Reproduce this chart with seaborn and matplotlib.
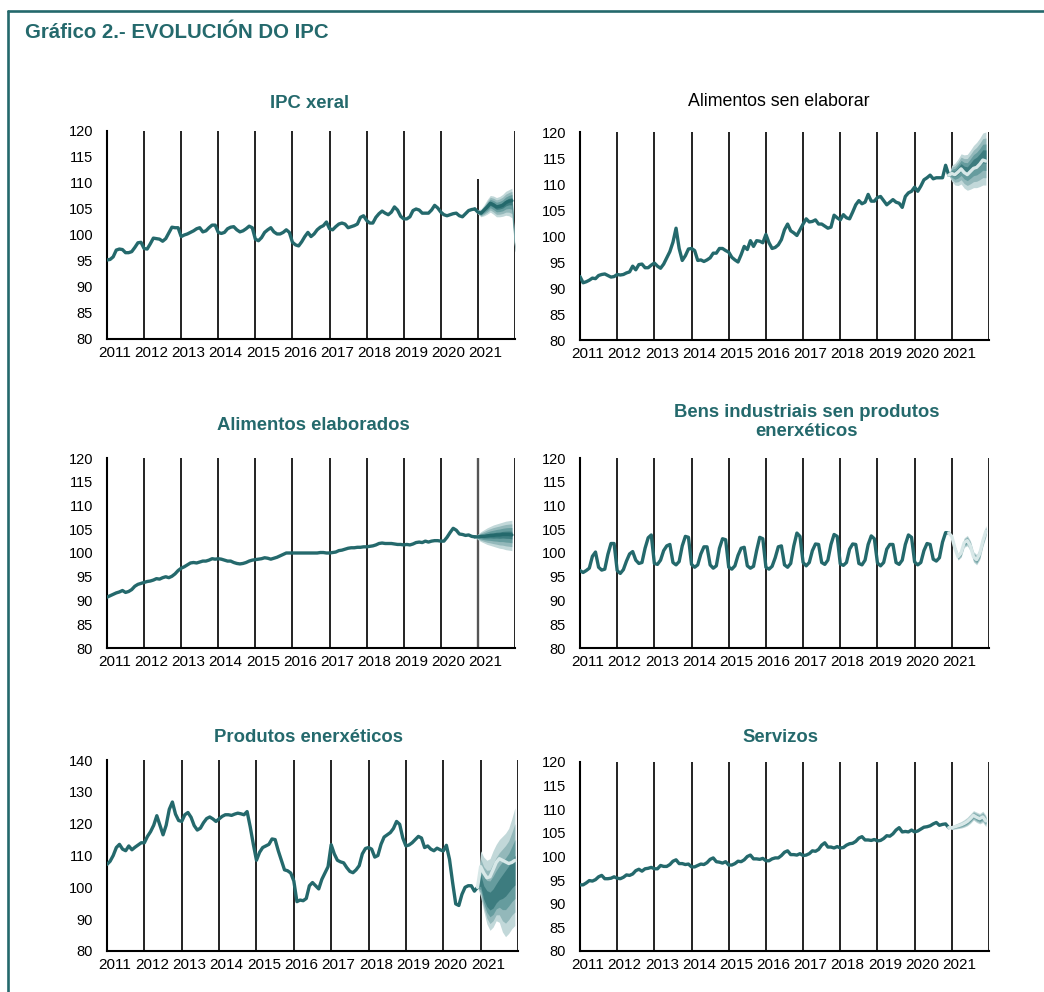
import numpy as np
import pandas as pd
import matplotlib
matplotlib.use("Agg")
import matplotlib.pyplot as plt
import seaborn as sns
from matplotlib.lines import Line2D

sns.set_style("white")
plt.rcParams['font.family'] = ['Liberation Sans', 'DejaVu Sans']

# ---------------- data ----------------
year_labels = ['2011', '2012', '2013', '2014', '2015', '2016', '2017', '2018', '2019', '2020', '2021']
panel_titles = ['IPC xeral', 'Alimentos sen elaborar', 'Alimentos elaborados',
                'Bens industriais sen produtos\nenerxéticos', 'Produtos enerxéticos', 'Servizos']

# monthly observed values, Jan 2011 - Dec 2020
ipc_xeral = [
    95.2, 95.3, 95.8, 97.1, 97.3, 97.2, 96.6, 96.6, 96.8, 97.6, 98.5, 98.6,
    97.4, 97.3, 98.3, 99.4, 99.3, 99.2, 98.8, 99.3, 100.4, 101.5, 101.4, 101.4,
    99.7, 100.0, 100.2, 100.5, 100.8, 101.2, 101.4, 100.6, 100.8, 101.4, 101.9, 101.9,
    100.5, 100.3, 100.5, 101.2, 101.5, 101.6, 101.0, 100.6, 100.8, 101.2, 101.7, 101.4,
    99.2, 98.9, 99.5, 100.5, 101.0, 101.4, 100.6, 100.2, 100.2, 100.5, 101.0, 100.5,
    98.6, 98.1, 97.9, 98.7, 99.7, 100.5, 99.7, 100.2, 101.0, 101.5, 101.8, 102.5,
    101.2, 101.0, 101.6, 102.1, 102.3, 102.1, 101.4, 101.6, 101.8, 102.1, 103.4, 103.7,
    102.8, 102.3, 102.3, 103.4, 104.1, 104.6, 104.2, 103.9, 104.4, 105.4, 104.8, 103.6,
    103.1, 103.1, 103.5, 104.7, 105.0, 104.8, 104.2, 104.2, 104.2, 104.8, 105.7, 105.2,
    104.4, 103.9, 103.7, 103.9, 104.1, 104.2, 103.7, 103.5, 104.1, 104.7, 104.9, 105.0]

alim_sen_elab = [
    92.2, 91.0, 91.2, 91.5, 91.9, 91.8, 92.4, 92.6, 92.7, 92.4, 92.1, 92.2,
    92.6, 92.5, 92.6, 92.9, 93.1, 94.2, 93.5, 94.5, 94.6, 93.9, 93.9, 94.4,
    94.8, 94.2, 93.8, 94.6, 95.8, 97.0, 98.8, 101.5, 97.6, 95.3, 96.2, 97.5,
    97.6, 97.2, 95.3, 95.4, 95.1, 95.4, 95.8, 96.7, 96.7, 97.6, 97.6, 97.2,
    96.9, 95.9, 95.4, 95.0, 96.4, 98.0, 97.4, 99.1, 98.0, 99.1, 99.0, 98.7,
    100.3, 98.7, 97.6, 97.8, 98.3, 99.3, 101.2, 102.3, 101.0, 100.6, 100.1, 101.2,
    102.3, 103.3, 102.7, 102.8, 103.1, 102.3, 102.3, 101.9, 101.5, 101.7, 104.0, 103.5,
    103.1, 104.1, 103.5, 103.3, 104.6, 106.0, 106.8, 106.2, 106.5, 108.0, 106.7, 106.7,
    107.4, 107.6, 106.8, 106.0, 106.5, 107.0, 106.5, 106.3, 105.5, 107.6, 108.3, 108.6,
    109.4, 108.6, 109.6, 110.8, 111.2, 111.7, 111.0, 111.2, 111.2, 111.2, 113.6, 111.7]

alim_elab = [
    90.7, 91.0, 91.3, 91.6, 91.8, 92.1, 91.7, 91.9, 92.3, 93.0, 93.4, 93.6,
    93.8, 94.0, 94.1, 94.3, 94.6, 94.5, 94.8, 95.0, 94.8, 95.1, 95.6, 96.3,
    96.8, 97.1, 97.5, 97.9, 98.0, 97.9, 98.1, 98.3, 98.3, 98.5, 98.8, 98.7,
    98.8, 98.7, 98.5, 98.3, 98.3, 98.0, 97.8, 97.7, 97.8, 98.0, 98.3, 98.5,
    98.6, 98.7, 98.8, 99.0, 98.9, 98.7, 98.9, 99.1, 99.4, 99.7, 100.0, 100.0,
    100.0, 100.0, 100.0, 100.0, 100.0, 100.0, 100.0, 100.0, 100.0, 100.1, 100.1, 100.0,
    100.0, 100.1, 100.2, 100.5, 100.6, 100.8, 101.0, 101.1, 101.1, 101.2, 101.2, 101.3,
    101.3, 101.4, 101.5, 101.7, 102.0, 102.1, 102.0, 102.0, 102.0, 101.9, 101.8, 101.8,
    101.7, 101.8, 101.7, 101.9, 102.2, 102.3, 102.2, 102.5, 102.3, 102.5, 102.6, 102.6,
    102.5, 102.5, 103.3, 104.3, 105.2, 104.8, 104.0, 103.9, 103.7, 103.8, 103.5, 103.4]

bens_industriais = [
    96.3, 95.9, 96.3, 96.8, 99.3, 100.2, 97.0, 96.4, 96.6, 99.7, 102.0, 102.0,
    96.3, 95.7, 96.5, 98.3, 99.8, 100.3, 98.5, 97.8, 98.0, 101.0, 103.2, 103.8,
    97.8, 97.6, 98.5, 100.5, 101.5, 101.8, 98.0, 97.5, 98.2, 101.5, 103.5, 103.3,
    97.6, 97.0, 97.5, 99.8, 101.3, 101.3, 97.5, 96.8, 97.3, 101.0, 103.0, 102.8,
    97.0, 96.6, 97.3, 99.5, 101.0, 101.2, 97.3, 96.8, 97.2, 100.5, 103.3, 103.0,
    97.0, 96.6, 97.2, 99.0, 101.3, 101.5, 97.5, 97.0, 97.8, 101.5, 104.2, 103.5,
    98.0, 97.3, 98.0, 100.5, 101.9, 101.8, 98.0, 97.6, 98.5, 101.8, 103.9, 103.5,
    97.7, 97.4, 98.0, 100.8, 101.9, 101.8, 97.8, 97.5, 98.5, 101.8, 103.6, 103.0,
    97.9, 97.3, 98.0, 100.8, 101.8, 101.8, 98.0, 97.6, 98.5, 101.8, 103.8, 103.3,
    98.1, 97.5, 98.0, 100.5, 102.0, 101.8, 98.7, 98.3, 99.0, 102.3, 104.3, 104.2]

prod_enerxeticos = [
    107.2, 108.2, 110.0, 112.5, 113.5, 112.0, 111.5, 113.0, 111.8, 112.6, 113.3, 114.0,
    114.0, 116.0, 117.5, 119.5, 122.5, 119.5, 116.5, 119.5, 124.5, 126.8, 123.0, 121.0,
    120.7, 122.8, 123.5, 122.0, 119.4, 118.0, 118.6, 120.3, 121.6, 122.1, 121.5, 120.7,
    121.5, 122.3, 122.8, 122.8, 122.6, 123.0, 123.3, 123.1, 122.8, 123.8, 119.0, 113.5,
    108.5, 111.0, 112.5, 113.0, 113.5, 115.2, 115.0, 111.5, 108.5, 105.5, 105.2, 104.5,
    102.0, 95.5, 96.0, 95.8, 96.5, 100.5, 101.5, 100.5, 99.5, 102.5, 104.5, 106.5,
    113.4, 110.5, 108.5, 108.0, 107.7, 106.2, 105.0, 104.6, 105.5, 106.8, 110.5, 112.2,
    112.5, 112.0, 109.5, 110.0, 113.5, 115.8, 116.5, 117.2, 118.5, 120.7, 119.8, 115.5,
    113.0, 113.3, 114.0, 115.0, 116.0, 115.5, 112.5, 113.0, 112.0, 111.5, 112.3, 111.8,
    111.4, 113.2, 108.8, 101.5, 94.8, 94.3, 97.8, 100.0, 100.5, 100.5, 98.8, 100.0]

servizos = [
    94.0, 94.0, 94.4, 94.9, 94.8, 95.1, 95.7, 96.0, 95.3, 95.3, 95.4, 95.7,
    95.4, 95.3, 95.6, 96.1, 96.0, 96.3, 97.0, 97.3, 96.9, 97.4, 97.5, 97.7,
    97.4, 97.4, 98.1, 97.9, 97.9, 98.3, 99.0, 99.3, 98.5, 98.5, 98.3, 98.4,
    97.8, 97.8, 98.1, 98.4, 98.3, 98.7, 99.4, 99.7, 98.9, 98.8, 98.6, 98.9,
    98.2, 98.2, 98.5, 99.0, 98.9, 99.3, 100.0, 100.3, 99.5, 99.5, 99.4, 99.6,
    99.1, 99.1, 99.5, 99.7, 99.7, 100.2, 100.9, 101.2, 100.4, 100.4, 100.3, 100.6,
    100.2, 100.3, 100.6, 101.2, 101.1, 101.5, 102.4, 102.9, 102.0, 102.0, 101.8, 102.1,
    101.8, 101.9, 102.4, 102.7, 102.8, 103.2, 103.9, 104.2, 103.5, 103.5, 103.4, 103.6,
    103.3, 103.4, 103.8, 104.4, 104.3, 104.8, 105.6, 106.1, 105.2, 105.3, 105.2, 105.6,
    105.2, 105.4, 105.8, 106.2, 106.3, 106.5, 106.9, 107.2, 106.6, 106.8, 106.9, 106.1]

# forecasts, Dec 2020 onwards: central projection line, fan core, outer lower/upper bounds
ipc_line = [105.0, 104.4, 104.2, 104.8, 105.4, 106.1, 105.8, 105.4, 105.5, 105.7, 106.2, 106.5, 106.6]
ipc_mid = [105.0, 104.4, 104.2, 104.8, 105.4, 106.1, 105.8, 105.4, 105.5, 105.7, 106.2, 106.5, 106.6, 96.9]
ipc_lo = [105.0, 104.0, 103.5, 103.7, 104.0, 104.4, 104.0, 103.5, 103.5, 103.6, 103.8, 103.7, 103.3, 96.7]
ipc_hi = [105.0, 104.9, 105.0, 105.8, 106.8, 107.6, 107.5, 107.2, 107.4, 107.8, 108.4, 108.7, 109.0, 97.1]

ase_line = [111.7, 112.0, 111.8, 112.3, 112.9, 112.2, 111.8, 112.4, 113.0, 113.2, 113.8, 114.6, 114.4]
ase_mid = [111.7, 112.1, 112.0, 112.6, 113.3, 112.7, 112.5, 113.2, 113.9, 114.2, 114.8, 115.5, 115.4]
ase_lo = [111.7, 110.5, 109.8, 109.7, 110.0, 109.2, 108.8, 109.0, 109.3, 109.3, 109.5, 109.8, 109.8]
ase_hi = [111.7, 113.6, 114.0, 114.8, 115.8, 115.6, 115.7, 116.5, 117.4, 118.0, 118.8, 119.8, 120.0]

ae_line = [103.4, 103.4, 103.5, 103.5, 103.6, 103.7, 103.7, 103.8, 103.8, 103.9, 103.9, 103.9, 103.8]
ae_lo = [103.4, 102.8, 102.4, 102.1, 101.8, 101.6, 101.4, 101.2, 101.0, 100.9, 100.7, 100.6, 100.5]
ae_hi = [103.4, 104.0, 104.5, 104.9, 105.3, 105.6, 105.9, 106.1, 106.3, 106.5, 106.7, 106.8, 106.9]

bi_line = [104.2, 103.5, 101.0, 99.2, 100.0, 102.2, 102.6, 101.5, 99.2, 98.6, 99.8, 102.5, 104.6]
bi_lo = [104.2, 103.1, 100.4, 98.5, 99.1, 101.2, 101.5, 100.4, 98.1, 97.5, 98.6, 101.3, 103.4]
bi_hi = [104.2, 103.9, 101.6, 99.9, 100.9, 103.2, 103.7, 102.6, 100.3, 99.7, 101.0, 103.7, 105.8]

pe_line = [100.0, 106.5, 104.5, 103.0, 103.3, 105.5, 107.8, 109.0, 108.5, 108.0, 107.5, 107.8, 108.5]
pe_mid = [100.0, 101.5, 97.5, 95.8, 95.0, 95.5, 97.0, 98.5, 100.0, 101.5, 102.8, 104.0, 105.0]
pe_lo = [100.0, 97.0, 92.5, 88.5, 86.5, 87.5, 89.5, 89.0, 86.0, 84.5, 85.5, 87.0, 88.0]
pe_hi = [100.0, 111.5, 109.5, 108.5, 109.0, 111.5, 113.5, 115.0, 116.0, 117.0, 118.5, 121.5, 125.0]

se_line = [106.1, 106.1, 106.3, 106.5, 106.7, 107.0, 107.4, 108.0, 108.7, 108.3, 108.0, 108.4, 107.5]
se_lo = [106.1, 105.7, 105.8, 105.9, 106.0, 106.2, 106.5, 107.0, 107.7, 107.2, 106.9, 107.2, 106.3]
se_hi = [106.1, 106.5, 106.8, 107.1, 107.4, 107.8, 108.3, 109.0, 109.7, 109.4, 109.1, 109.6, 108.7]

# ---------------- style ----------------
TEAL = "#24696C"
LIGHT = "#D8E8E8"
BAND_COLORS = ["#C2D8D9", "#93B8BA", "#669C9E", "#3D7C7F"]  # outer -> inner

W, H = 1044, 992
fig = plt.figure(figsize=(W / 100, H / 100), dpi=100)


def rect(x0, x1, ytop, ybot):
    return [x0 / W, 1 - ybot / H, (x1 - x0) / W, (ybot - ytop) / H]


def draw_panel(box, obs, line, mid, lo, hi, line_color, ylim, ystep,
               short_2021=None, gray_2021=False):
    ax = fig.add_axes(box)
    x_obs = 2011 + np.arange(len(obs)) / 12
    df = pd.DataFrame({"x": x_obs, "v": obs})
    x_fan = 2020 + 11 / 12 + np.arange(len(mid)) / 12
    mid_a, lo_a, hi_a = np.array(mid), np.array(lo), np.array(hi)
    # vertical year lines
    for yr in range(2012, 2023):
        top = ylim[1]
        col, lw = "#111111", 1.3
        if yr == 2021 and short_2021 is not None:
            top = short_2021
        if yr == 2021 and gray_2021:
            col, lw = "#555555", 1.7
        ax.plot([yr, yr], [ylim[0], top], color=col, lw=lw, zorder=1,
                solid_capstyle="butt")
    # fan bands
    nb = len(BAND_COLORS)
    for k, c in zip(range(nb, 0, -1), BAND_COLORS):
        f = k / nb
        ax.fill_between(x_fan, mid_a - f * (mid_a - lo_a), mid_a + f * (hi_a - mid_a),
                        color=c, lw=0, zorder=2)
    sns.lineplot(data=df, x="x", y="v", color=TEAL, lw=2.4, ax=ax, zorder=3)
    x_line = 2020 + 11 / 12 + np.arange(len(line)) / 12
    sns.lineplot(x=x_line, y=line, color=line_color, lw=2.4, ax=ax, zorder=3)
    ax.set_xlim(2011, 2022)
    ax.set_ylim(*ylim)
    ax.set_xlabel("")
    ax.set_ylabel("")
    for s in ["top", "right"]:
        ax.spines[s].set_visible(False)
    for s in ["left", "bottom"]:
        ax.spines[s].set_color("black")
        ax.spines[s].set_linewidth(1.5)
    ax.set_xticks(list(range(2011, 2023)))
    ax.set_xticklabels([""] * 12)
    ax.set_xticks([int(y) + 0.2 for y in year_labels], minor=True)
    ax.set_xticklabels(year_labels, minor=True)
    ax.tick_params(axis="x", which="major", direction="out", length=4, width=1, color="black")
    ax.tick_params(axis="x", which="minor", length=0, labelsize=11.0, pad=5, labelcolor="black")
    yt = np.arange(ylim[0], ylim[1] + 0.1, ystep)
    ax.set_yticks(yt)
    ax.set_yticklabels([f"{int(v)}" for v in yt])
    ax.tick_params(axis="y", direction="out", length=4, width=1, color="black",
                   labelsize=10.5, pad=6, labelcolor="black")
    ax.grid(False)
    return ax


draw_panel(rect(107, 515, 131, 339), ipc_xeral, ipc_line, ipc_mid, ipc_lo, ipc_hi,
           TEAL, (80, 120), 5, short_2021=110.8)
draw_panel(rect(580, 989, 132, 340), alim_sen_elab, ase_line, ase_mid, ase_lo, ase_hi,
           LIGHT, (80, 120), 5)
draw_panel(rect(107, 515, 458, 648), alim_elab, ae_line, ae_line, ae_lo, ae_hi,
           TEAL, (80, 120), 5, gray_2021=True)
draw_panel(rect(580, 989, 458, 648), bens_industriais, bi_line, bi_line, bi_lo, bi_hi,
           LIGHT, (80, 120), 5)
draw_panel(rect(107, 518, 760, 951), prod_enerxeticos, pe_line, pe_mid, pe_lo, pe_hi,
           LIGHT, (80, 140), 10)
draw_panel(rect(580, 989, 762, 951), servizos, se_line, se_line, se_lo, se_hi,
           LIGHT, (80, 120), 5)

# titles
title_pos = [(309, 103), (779, 102), (313, 425), (807, 422), (309, 737), (780, 738)]
for i, (t, (px, py)) in enumerate(zip(panel_titles, title_pos)):
    if i == 1:
        fig.text(px / W, 1 - py / H, t, ha="center", va="center", fontsize=12.8,
                 color="black")
    else:
        fig.text(px / W, 1 - py / H, t, ha="center", va="center", fontsize=13.3,
                 color=TEAL, fontweight="bold", linespacing=1.1)

fig.text(25 / W, 1 - 33 / H, "Gráfico 2.- EVOLUCIÓN DO IPC", ha="left", va="center",
         fontsize=14.7, fontweight="bold", color=TEAL)

# frame
fig.add_artist(Line2D([8.3 / W, 1], [1 - 11.3 / H] * 2, transform=fig.transFigure,
                      color=TEAL, lw=1.9))
fig.add_artist(Line2D([8.3 / W] * 2, [0, 1 - 11.3 / H], transform=fig.transFigure,
                      color=TEAL, lw=1.9))

fig.savefig("out.png", dpi=100)
